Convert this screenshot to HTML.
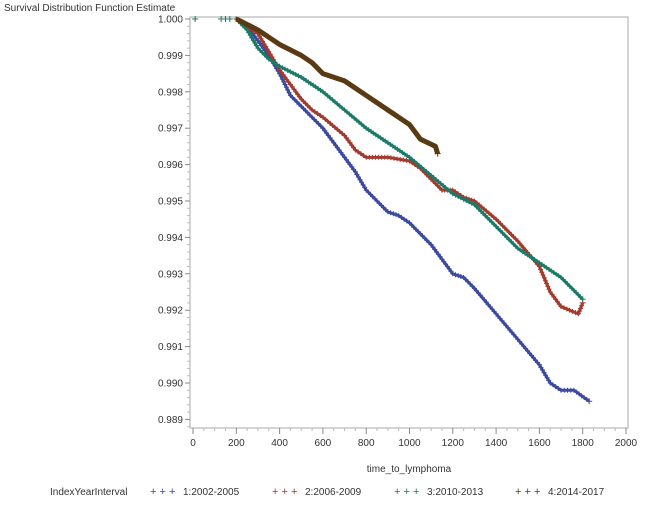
<!DOCTYPE html>
<html><head><meta charset="utf-8"><style>
body{margin:0;background:#fff;font-family:"Liberation Sans",sans-serif;}
svg text{font-family:"Liberation Sans",sans-serif;fill:#333;}
</style></head><body>
<svg id="c" width="654" height="501"></svg>
<script>
const xTicks=[0,200,400,600,800,1000,1200,1400,1600,1800,2000];
const yTicks=[1.000,0.999,0.998,0.997,0.996,0.995,0.994,0.993,0.992,0.991,0.990,0.989];
const seriesNames=["1:2002-2005","2:2006-2009","3:2010-2013","4:2014-2017"];
const blueT=[200,250,300,350,400,450,500,550,600,650,700,750,800,850,900,950,1000,1050,1100,1150,1200,1250,1300,1400,1500,1600,1650,1700,1760,1830];
const blueS=[1,0.9998,0.9994,0.9990,0.9985,0.9979,0.9976,0.9973,0.9970,0.9966,0.9962,0.9958,0.9953,0.9950,0.9947,0.9946,0.9944,0.9941,0.9938,0.9934,0.9930,0.9929,0.9926,0.9919,0.9912,0.9905,0.9900,0.9898,0.9898,0.9895];
const redT=[200,300,400,450,500,550,600,700,750,800,900,1000,1050,1100,1150,1200,1250,1300,1400,1500,1600,1650,1700,1780,1800];
const redS=[1,0.9996,0.9986,0.9982,0.9978,0.9975,0.9973,0.9968,0.9964,0.9962,0.9962,0.9961,0.9959,0.9956,0.9953,0.9953,0.9951,0.9950,0.9945,0.9939,0.9932,0.9925,0.9921,0.9919,0.9922];
const tealT=[200,250,300,350,400,500,600,700,800,900,1000,1100,1200,1300,1400,1500,1600,1700,1750,1800];
const tealS=[1,0.9997,0.9992,0.9989,0.9987,0.9984,0.9980,0.9975,0.9970,0.9966,0.9962,0.9957,0.9952,0.9949,0.9943,0.9937,0.9933,0.9929,0.9926,0.9923];
const brownT=[200,300,400,500,550,600,700,800,900,1000,1050,1120,1130];
const brownS=[1,0.9997,0.9993,0.9990,0.9988,0.9985,0.9983,0.9979,0.9975,0.9971,0.9967,0.9965,0.9963];
const colors=["#3c4a9e","#a23a2e","#1b7a68","#5a3a12"];
const NS="http://www.w3.org/2000/svg";
const svg=document.getElementById('c');
function X(v){return 193+v*(433/2000);}
function Y(v){return 19+(1-v)*36400;}
function mk(t,a,p){const e=document.createElementNS(NS,t);for(const k in a)e.setAttribute(k,a[k]);(p||svg).appendChild(e);return e;}
const frame=mk('rect',{x:190,y:17,width:438,height:411,fill:'none',stroke:'#aaa'});


const title=mk('text',{x:4,y:11,'font-size':10});title.textContent='Survival Distribution Function Estimate';


yTicks.forEach(v=>{const y=Y(v);mk('line',{x1:185,x2:190,y1:y,y2:y,stroke:'#888'});
for(let k=1;k<5;k++){const yy=y+k*7.28;if(yy<428)mk('line',{x1:187,x2:190,y1:yy,y2:yy,stroke:'#bbb'});}
const t=mk('text',{x:183,y:y+3.5,'font-size':10,'text-anchor':'end'});t.textContent=v.toFixed(3);

});
xTicks.forEach((v,i)=>{const x=X(v);mk('line',{x1:x,x2:x,y1:428,y2:434,stroke:'#888'});
if(i<xTicks.length-1)for(let k=1;k<4;k++){const xx=X(v+k*50);mk('line',{x1:xx,x2:xx,y1:428,y2:431,stroke:'#bbb'});}
const t=mk('text',{x:x,y:446,'font-size':10,'text-anchor':'middle'});t.textContent=v;

});
const xt=mk('text',{x:409,y:472,'font-size':10,'text-anchor':'middle'});xt.textContent='time_to_lymphoma';


const data=[[blueT,blueS],[redT,redS],[tealT,tealS],[brownT,brownS]];
data.forEach((d,i)=>{const [T,S]=d;let p=`M${X(T[0])},${Y(S[0])}`;
for(let j=1;j<T.length;j++){p+=` L${X(T[j])},${Y(S[j])}`;}
const g=mk('g',{});
mk('path',{d:p,fill:'none',stroke:colors[i],'stroke-width':i==3?5:3,'stroke-linejoin':'round'},g);
let mp='';
for(let j=1;j<T.length;j++){const x0=X(T[j-1]),x1=X(T[j]),y0=Y(S[j-1]),y1=Y(S[j]);
const len=Math.hypot(x1-x0,y1-y0),n=Math.max(1,Math.round(len/3));
for(let k=0;k<n;k++){const f=k/n,x=x0+(x1-x0)*f,y=y0+(y1-y0)*f;mp+=`M${(x-2.5).toFixed(1)},${y.toFixed(1)}h5M${x.toFixed(1)},${(y-2.5).toFixed(1)}v5`;}}
const xe=X(T[T.length-1]),ye=Y(S[S.length-1]);mp+=`M${xe-3},${ye}h6M${xe},${ye-3}v6`;
mk('path',{d:mp,stroke:colors[i],'stroke-width':1,fill:'none'},g);});
mk('path',{d:`M${X(10)-3},19h6M${X(10)},16v6M${X(130)-3},19h6M${X(130)},16v6M${X(150)-3},19h6M${X(150)},16v6M${X(170)-3},19h6M${X(170)},16v6`,stroke:'#1b7a68'});
const lt=mk('text',{x:50,y:495,'font-size':10});lt.textContent='IndexYearInterval';


const lx=[150,272,394,515];
seriesNames.forEach((n,i)=>{const g=mk('g',{});


const m=mk('text',{x:lx[i],y:495,'font-size':11},g);m.textContent='+ + +';m.style.fill=colors[i];
const t=mk('text',{x:lx[i]+33,y:495,'font-size':10},g);t.textContent=n;});
</script>
</body></html>
